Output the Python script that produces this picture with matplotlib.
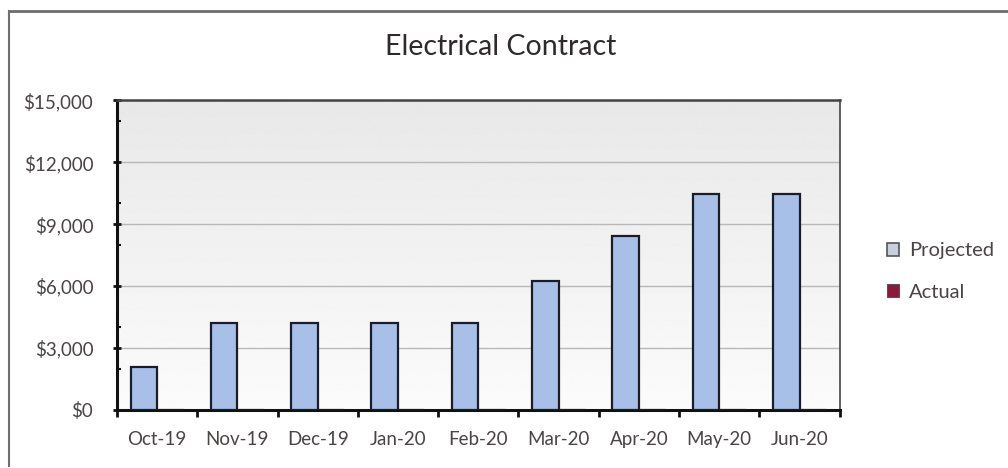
import matplotlib
matplotlib.use("Agg")
import matplotlib.pyplot as plt
import numpy as np
from matplotlib.lines import Line2D
from matplotlib.patches import Patch

months = ["Oct-19", "Nov-19", "Dec-19", "Jan-20", "Feb-20", "Mar-20", "Apr-20", "May-20", "Jun-20"]
projected = [2100, 4200, 4200, 4200, 4200, 6250, 8400, 10450, 10450]
actual = [0, 0, 0, 0, 0, 0, 0, 0, 0]

plt.rcParams['font.family'] = ['Lato', 'DejaVu Sans']
txt = '#4a4444'

fig = plt.figure(figsize=(10.08, 4.68), dpi=100)
ax = fig.add_axes([0.116, 0.124, 0.717, 0.662])

# gray-to-white plot area
grad = np.linspace(0.91, 0.985, 256).reshape(-1, 1)
ax.imshow(grad, extent=[0, 1, 0, 1], transform=ax.transAxes, cmap='gray',
          vmin=0, vmax=1, aspect='auto', zorder=0)

x = np.arange(len(months))
w = 0.33
ax.bar(x - w / 2, projected, w, color='#a8bfe8', edgecolor='#1c1c28', linewidth=1.6, zorder=3)
ax.bar(x + w / 2, actual, w, color='#8b1a3a', edgecolor='#1c1c28', linewidth=1.6, zorder=3)

ax.set_xlim(-0.5, len(months) - 0.5)
ax.set_ylim(0, 15000)
ax.set_yticks(range(0, 15001, 3000))
ax.set_yticklabels(["${:,}".format(v) for v in range(0, 15001, 3000)])
ax.set_yticks(range(0, 15001, 2000), minor=True)
ax.set_xticks(x)
ax.set_xticklabels(months)
ax.set_xticks(np.arange(-0.5, len(months)), minor=True)

ax.yaxis.grid(True, color='#b8b8b8', linewidth=1)
ax.set_axisbelow(True)
for g in ax.get_ygridlines():
    g.set_zorder(1)

ax.tick_params(axis='x', which='major', length=0, pad=15, labelsize=13.5, labelcolor=txt)
ax.tick_params(axis='x', which='minor', length=5, width=2, color='#111111', direction='out')
ax.tick_params(axis='y', which='major', length=6, width=2, color='#111111', direction='inout',
               labelsize=13.5, labelcolor=txt, pad=14)
ax.tick_params(axis='y', which='minor', length=3, width=1.5, color='#111111', direction='in')

ax.spines['left'].set_linewidth(2.2)
ax.spines['left'].set_color('#111111')
ax.spines['bottom'].set_linewidth(2.2)
ax.spines['bottom'].set_color('#111111')
ax.spines['top'].set_linewidth(1.8)
ax.spines['top'].set_color('#444444')
ax.spines['right'].set_linewidth(1.2)
ax.spines['right'].set_color('#444444')

fig.text(0.497, 0.9, "Electrical Contract", ha='center', va='center', fontsize=20.5, color='#2e2a2a')

handles = [Patch(facecolor='#c8cfdc', edgecolor='#555555', linewidth=1.2),
           Patch(facecolor='#8b1a3a', edgecolor='#555555', linewidth=0.8)]
fig.legend(handles, ["Projected", "Actual"], loc='center left', bbox_to_anchor=(0.862, 0.42),
           frameon=False, fontsize=14.5, labelcolor=txt, handlelength=0.6, handleheight=0.6,
           handletextpad=0.5, labelspacing=1.2)

# outer chart border (left and top)
fig.add_artist(Line2D([0.009, 0.009], [0.005, 0.977], transform=fig.transFigure, color='#6e6e6e', linewidth=1.5))
fig.add_artist(Line2D([0.009, 1.0], [0.977, 0.977], transform=fig.transFigure, color='#6e6e6e', linewidth=2))

fig.savefig("out.png", dpi=100, facecolor='white')
